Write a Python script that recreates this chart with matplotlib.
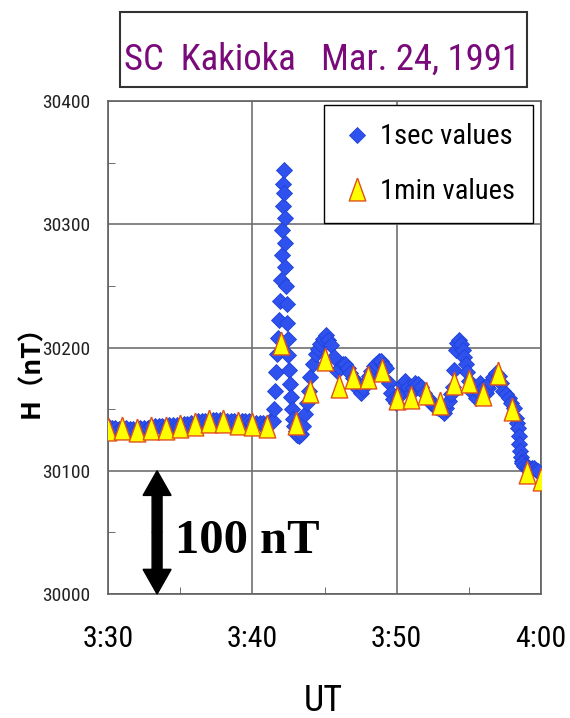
import matplotlib
matplotlib.use('Agg')
import matplotlib.pyplot as plt
from matplotlib import font_manager as fm
from matplotlib.patches import FancyArrow, Rectangle
from matplotlib.ticker import MultipleLocator, FixedLocator, FixedFormatter

# H component at Kakioka, time in minutes after 03:30 UT
sec_t = [0.0, 0.25, 0.5, 0.75, 1.0, 1.25, 1.5, 1.75, 2.0, 2.25, 2.5, 2.75,
         3.0, 3.25, 3.5, 3.75, 4.0, 4.25, 4.5, 4.75, 5.0, 5.25, 5.5, 5.75,
         6.0, 6.25, 6.5, 6.75, 7.0, 7.25, 7.5, 7.75, 8.0, 8.25, 8.5, 8.75,
         9.0, 9.25, 9.5, 9.75, 10.0, 10.25, 10.5, 10.75, 11.0, 11.25,
         11.40, 11.50, 11.58, 11.65, 11.72, 11.80, 11.88, 11.95, 12.00, 12.04,
         12.07, 12.10, 12.13, 12.17, 12.20, 12.23, 12.26, 12.29, 12.33, 12.37,
         12.41, 12.45, 12.50, 12.55, 12.60, 12.66, 12.73, 12.80, 12.90, 13.00,
         13.10, 13.20, 13.35, 13.50, 13.65, 13.80, 13.90, 14.00, 14.20, 14.38,
         14.55, 14.72, 14.90, 15.07, 15.25, 15.42, 15.63, 15.90, 16.10, 16.30,
         16.45, 16.65, 16.80, 17.00, 17.15, 17.35, 17.50, 17.70, 17.85, 18.05,
         18.20, 18.40, 18.55, 18.75, 18.90, 19.10, 19.24, 19.45, 19.60, 19.75,
         19.93, 20.10, 20.30, 20.45, 20.60, 20.80, 20.97, 21.15, 21.30, 21.50,
         21.67, 21.90, 22.15, 22.35, 22.50, 22.70, 22.85, 23.05, 23.30, 23.45,
         23.60, 23.75, 23.90, 24.00, 24.10, 24.20, 24.30, 24.45, 24.60, 24.70,
         24.80, 24.90, 25.00, 25.15, 25.30, 25.50, 25.65, 25.80, 26.00, 26.20,
         26.35, 26.50, 26.70, 26.90, 27.10, 27.25, 27.40, 27.60, 27.80, 27.95,
         28.10, 28.25, 28.35, 28.40, 28.45, 28.50, 28.55, 28.60, 28.65, 28.70,
         28.80, 29.00, 29.20, 29.35, 29.50, 29.65, 29.80]
sec_h = [30136, 30135, 30135, 30134, 30135, 30135, 30134, 30134, 30134, 30135, 30135, 30135,
         30136, 30136, 30136, 30136, 30136, 30137, 30137, 30137, 30137, 30138, 30138, 30139,
         30139, 30140, 30140, 30140, 30140, 30141, 30141, 30141, 30141, 30140, 30140, 30140,
         30140, 30140, 30140, 30140, 30139, 30139, 30139, 30139, 30139, 30140,
         30140, 30150, 30165, 30180, 30195, 30208, 30222, 30238, 30255, 30275,
         30295, 30315, 30333, 30344, 30325, 30305, 30285, 30265, 30250, 30235,
         30220, 30207, 30194, 30182, 30170, 30160, 30150, 30142, 30136, 30132,
         30129, 30128, 30130, 30136, 30146, 30155, 30165, 30176, 30187, 30195,
         30199, 30203, 30207, 30210, 30206, 30202, 30192, 30181, 30183, 30187,
         30187, 30183, 30179, 30175, 30171, 30166, 30163, 30167, 30172, 30177,
         30181, 30185, 30187, 30189, 30189, 30186, 30183, 30171, 30163, 30158,
         30155, 30160, 30165, 30170, 30173, 30168, 30163, 30167, 30171, 30170,
         30168, 30163, 30159, 30155, 30153, 30152, 30151, 30149, 30147, 30151,
         30157, 30162, 30168, 30182, 30198, 30204, 30206, 30203, 30198, 30192,
         30187, 30180, 30173, 30168, 30163, 30159, 30165, 30171, 30167, 30163,
         30167, 30172, 30176, 30179, 30177, 30171, 30165, 30162, 30159, 30155,
         30151, 30143, 30139, 30135, 30128, 30122, 30116, 30111, 30108, 30106,
         30104, 30103, 30102, 30102, 30102, 30101, 30100]

min_t = list(range(31))
min_h = [30134, 30135, 30133, 30135, 30135, 30136, 30138, 30140, 30140, 30139,
         30138, 30136, 30204, 30139, 30165, 30191, 30169, 30176, 30176, 30182,
         30159, 30160, 30163, 30155, 30171, 30173, 30162, 30179, 30150, 30099,
         30093]

tick_minutes = [0, 10, 20, 30]
tick_labels = ['3:30', '3:40', '3:50', '4:00']
bar_lo, bar_hi = 30000, 30100
bar_t = 3.4


def narrow_font():
    names = {f.name for f in fm.fontManager.ttflist}
    for n in ['Liberation Sans Narrow', 'Roboto Condensed', 'Open Sans Condensed',
              'DejaVu Sans Condensed']:
        if n in names:
            return {'family': n, 'stretch': 'normal'}
    for f in fm.fontManager.ttflist:
        if f.stretch in ('condensed', 'semi-condensed') and 'Sans' in f.name and 'Mono' not in f.name:
            return {'family': f.name, 'stretch': f.stretch}
    return {'family': 'Liberation Sans', 'stretch': 'normal'}


nf = narrow_font()

fig = plt.figure(figsize=(5.7, 7.18), dpi=100)
ax = fig.add_axes([0.1895, 0.1727, 0.7596, 0.6866])

ax.plot(sec_t, sec_h, linestyle='none', marker='D', markersize=8.5,
        mfc='#2f52ee', mec='#1f40d8', mew=0.6, label='1sec values', zorder=3)
tri = [(0, 1), (-0.72, -1), (0.72, -1), (0, 1)]
ax.plot(min_t, min_h, linestyle='none', marker=tri, markersize=16.5,
        mfc='#ffff00', mec='#e0501a', mew=1.0, label='1min values', zorder=4)

ax.set_xlim(0, 30)
ax.set_ylim(30000, 30400)
ax.xaxis.set_major_locator(FixedLocator(tick_minutes))
ax.xaxis.set_major_formatter(FixedFormatter(tick_labels))
ax.xaxis.set_minor_locator(MultipleLocator(5))
ax.yaxis.set_major_locator(MultipleLocator(100))
ax.yaxis.set_minor_locator(MultipleLocator(50))
ax.tick_params(which='major', length=0)
ax.tick_params(which='minor', direction='in', length=5, color='#555555')
ax.tick_params(axis='y', pad=13)
ax.tick_params(axis='x', pad=22)
for lab in ax.get_yticklabels():
    lab.set_fontproperties(fm.FontProperties(size=14, **nf))
    lab.set_color('#222222')
for lab in ax.get_xticklabels():
    lab.set_fontproperties(fm.FontProperties(size=21.5, **nf))
ax.grid(True, which='major', color='#707070', linewidth=1.2)
for s in ax.spines.values():
    s.set_color('#606060')
    s.set_linewidth(1.2)

leg = ax.legend(loc='upper right', bbox_to_anchor=(0.982, 0.992), borderaxespad=0,
                prop=fm.FontProperties(size=20.5, **nf), frameon=True, fancybox=False,
                handlelength=1.0, handletextpad=0.3, labelspacing=0.95,
                borderpad=0.65, numpoints=1)
leg.get_frame().set_edgecolor('black')
leg.get_frame().set_linewidth(1.0)
leg.get_frame().set_alpha(1)

# 100 nT scale bar
mid = (bar_lo + bar_hi) / 2
for dy in (bar_hi - mid, bar_lo - mid):
    ax.add_patch(FancyArrow(bar_t, mid, 0, dy, width=0.69, head_width=1.94,
                            head_length=20, length_includes_head=True,
                            color='black', clip_on=False, zorder=5))
ax.text(4.65, 30033, f'{bar_hi - bar_lo} nT', family=['Liberation Serif', 'DejaVu Serif'],
        weight='bold', fontsize=35, va='baseline', ha='left', zorder=5)

# title box
fig.patches.append(Rectangle((0.2105, 0.8788), 0.714, 0.1045, transform=fig.transFigure,
                             fill=False, edgecolor='#333333', linewidth=1.5))
fig.text(0.565, 0.9025, 'SC  Kakioka   Mar. 24, 1991', fontproperties=fm.FontProperties(size=26.5, **nf),
         color='#7a0a7a', ha='center', va='baseline')

fig.text(31 / 570, 1 - 365 / 718, 'H（nT）', family=['Noto Sans CJK JP', 'DejaVu Sans'],
         weight='bold', fontsize=19, rotation=90, ha='center', va='center')
fig.text(323 / 570, 1 - 701 / 718, 'UT', fontproperties=fm.FontProperties(size=26, **nf),
         ha='center', va='center')

fig.savefig('out.png', dpi=100)
